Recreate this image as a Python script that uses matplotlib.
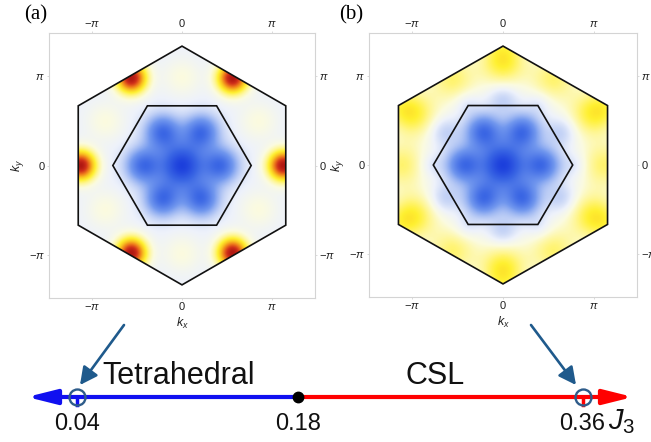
import numpy as np
import matplotlib
matplotlib.use('Agg')
import matplotlib.pyplot as plt
from matplotlib.colors import LinearSegmentedColormap
from matplotlib.patches import Polygon

plt.rcParams['font.family'] = ['Liberation Sans', 'DejaVu Sans']
plt.rcParams['mathtext.fontset'] = 'custom'
plt.rcParams['mathtext.rm'] = 'Liberation Sans'
plt.rcParams['mathtext.it'] = 'Liberation Sans:italic'
plt.rcParams['mathtext.bf'] = 'Liberation Sans:bold'

PI = np.pi
# ---------------- data ----------------
tick_vals = [-PI, 0, PI]
tick_labels = [r'$-\pi$', '0', r'$\pi$']
ytick_labels = [r'$-\pi$', '0', r'$\pi$']

outer_R = 4 * PI / 3
inner_R = 4 * PI / (3 * np.sqrt(3))
outer_vertex_angles = [30, 90, 150, 210, 270, 330]
inner_vertex_angles = [0, 60, 120, 180, 240, 300]

six_0 = [0, 60, 120, 180, 240, 300]
six_30 = [30, 90, 150, 210, 270, 330]

# structure-factor features, panel (a): Tetrahedral, J3 = 0.04
a_radius = [0.0, 1.35, 3.55, 3.1]
a_angles = [[0], six_0, six_0, six_30]
a_amp = [-0.95, -0.65, 1.0, 0.12]
a_sigma = [0.52, 0.43, 0.38, 0.45]

# panel (b): CSL, J3 = 0.36
b_radius = [0.0, 1.35, 2.35, 2.5, 3.5, 3.55, 4.19]
b_angles = [[0], six_0, six_30, six_0, six_0, six_30, six_30]
b_amp = [-0.95, -0.65, -0.18, -0.1, 0.3, 0.34, 0.16]
b_sigma = [0.52, 0.43, 0.35, 0.3, 0.6, 0.6, 0.5]

# phase diagram
J3_boundary = 0.18
J3_points = [0.04, 0.36]
J3_labels = ['0.04', '0.18', '0.36']
J3_label_vals = [0.04, 0.18, 0.36]
phase_names = ['Tetrahedral', 'CSL']
phase_name_pos = [0.1046, 0.2666]

# ---------------- helpers ----------------
cmap = LinearSegmentedColormap.from_list('sf', [
    (0.000, '#1a3ddc'),
    (0.150, '#3a66e4'),
    (0.300, '#7197ee'),
    (0.425, '#c3d2f6'),
    (0.500, '#eef2fb'),
    (0.560, '#fbfbe0'),
    (0.630, '#fff690'),
    (0.700, '#fff030'),
    (0.780, '#f9c020'),
    (0.860, '#ee7a1c'),
    (0.940, '#d0301a'),
    (1.000, '#b01812'),
])

lim = 1.48 * PI
g = np.linspace(-lim, lim, 500)
KX, KY = np.meshgrid(g, g)


def field(radii, angles, amps, sigmas):
    F = np.zeros_like(KX)
    for r, angs, A, s in zip(radii, angles, amps, sigmas):
        for a in angs:
            px, py = r * np.cos(np.radians(a)), r * np.sin(np.radians(a))
            F += A * np.exp(-((KX - px) ** 2 + (KY - py) ** 2) / (2 * s * s))
    return np.clip(F, -1, 1)


def hexagon(R, angs):
    return np.array([[R * np.cos(np.radians(a)), R * np.sin(np.radians(a))] for a in angs])


def draw_panel(ax, F, label, label_x):
    im = ax.imshow(F, extent=[-lim, lim, -lim, lim], origin='lower', cmap=cmap,
                   vmin=-1, vmax=1, interpolation='bilinear')
    outer = hexagon(outer_R, outer_vertex_angles)
    inner = hexagon(inner_R, inner_vertex_angles)
    clip = Polygon(outer, closed=True, transform=ax.transData, facecolor='none', edgecolor='none')
    ax.add_patch(clip)
    im.set_clip_path(clip)
    ax.add_patch(Polygon(outer, closed=True, fill=False, edgecolor='#111111', lw=1.2, zorder=3))
    ax.add_patch(Polygon(inner, closed=True, fill=False, edgecolor='#111111', lw=1.2, zorder=3))
    ax.set_xlim(-lim, lim)
    ax.set_ylim(-lim, lim)
    ax.set_aspect('auto')
    ax.set_xticks(tick_vals)
    ax.set_xticklabels(tick_labels)
    ax.set_yticks(tick_vals)
    ax.set_yticklabels(ytick_labels)
    ax.tick_params(top=True, right=True, labeltop=True, labelright=True, length=1.5,
                   width=0.5, color='#cccccc', labelsize=8, pad=1.5, labelcolor='#222222')
    for sp in ax.spines.values():
        sp.set_color('#d4d4d4')
        sp.set_linewidth(0.8)
    ax.set_xlabel(r'$k_x$', fontsize=9, labelpad=3, color='#222222')
    ax.set_ylabel(r'$k_y$', fontsize=9, labelpad=2, color='#222222')
    ax.text(label_x, 1.07, label, transform=ax.transAxes, ha='center', va='center',
            fontsize=15, family='Liberation Serif')


fig = plt.figure(figsize=(6.51, 4.42), dpi=100)
W, H = 651.0, 442.0
axa = fig.add_axes([49 / W, 1 - 298 / H, 266 / W, 265 / H])
axb = fig.add_axes([369 / W, 1 - 297 / H, 268 / W, 264 / H])
draw_panel(axa, field(a_radius, a_angles, a_amp, a_sigma), '(a)', -0.05)
draw_panel(axb, field(b_radius, b_angles, b_amp, b_sigma), '(b)', -0.065)

# ---------------- phase diagram ----------------
axl = fig.add_axes([0, 0, 1, 1], zorder=5)
axl.set_xlim(0.04 - 77 / 1580, 0.04 + 574 / 1580)
axl.set_ylim(H, 0)
axl.axis('off')
yl = 397
left_tip = 0.04 - 50 / 1580
right_tip = 0.04 + 556 / 1580

axl.plot([J3_points[0], J3_points[0]], [yl, yl + 8], color='#1010f0', lw=2.5, zorder=2)
axl.plot([J3_points[1], J3_points[1]], [yl, yl + 8], color='#ff0000', lw=2.5, zorder=2)
axl.annotate('', xy=(left_tip, yl), xytext=(J3_boundary, yl),
             arrowprops=dict(arrowstyle='-|>,head_length=0.8,head_width=0.2', color='#1010f0',
                             lw=3, mutation_scale=22, shrinkA=0, shrinkB=0), zorder=3)
axl.annotate('', xy=(right_tip, yl), xytext=(J3_boundary, yl),
             arrowprops=dict(arrowstyle='-|>,head_length=0.8,head_width=0.2', color='#ff0000',
                             lw=3, mutation_scale=22, shrinkA=0, shrinkB=0), zorder=3)
axl.plot([J3_boundary], [yl], 'o', color='black', ms=7.5, zorder=4)
axl.plot(J3_points, [yl, yl], 'o', mfc='none', mec='#2e5c8a', ms=11.5, mew=1.7, zorder=5)

for v, s in zip(J3_label_vals, J3_labels):
    axl.text(v, 424, s, ha='center', va='center', fontsize=17, color='#111111')
for x, s in zip(phase_name_pos, phase_names):
    axl.text(x, 376, s, ha='center', va='center', fontsize=22, color='#111111')
axl.text(0.04 + 531 / 1580, 429, r'$J_3$', ha='left', va='baseline', fontsize=21, color='#111111')

# arrows from panels to the phase points
arrow_tail_J = [0.04 + 47 / 1580, 0.04 + 454 / 1580]
arrow_tip_J = [0.04 + 3 / 1580, 0.04 + 499 / 1580]
for tj, hj in zip(arrow_tail_J, arrow_tip_J):
    axl.annotate('', xy=(hj, 385), xytext=(tj, 325),
                 arrowprops=dict(arrowstyle='-|>,head_length=0.75,head_width=0.38', color='#1f5a8c',
                                 lw=1.9, mutation_scale=14, shrinkA=0, shrinkB=0), zorder=6)

fig.savefig('out.png', dpi=100)
